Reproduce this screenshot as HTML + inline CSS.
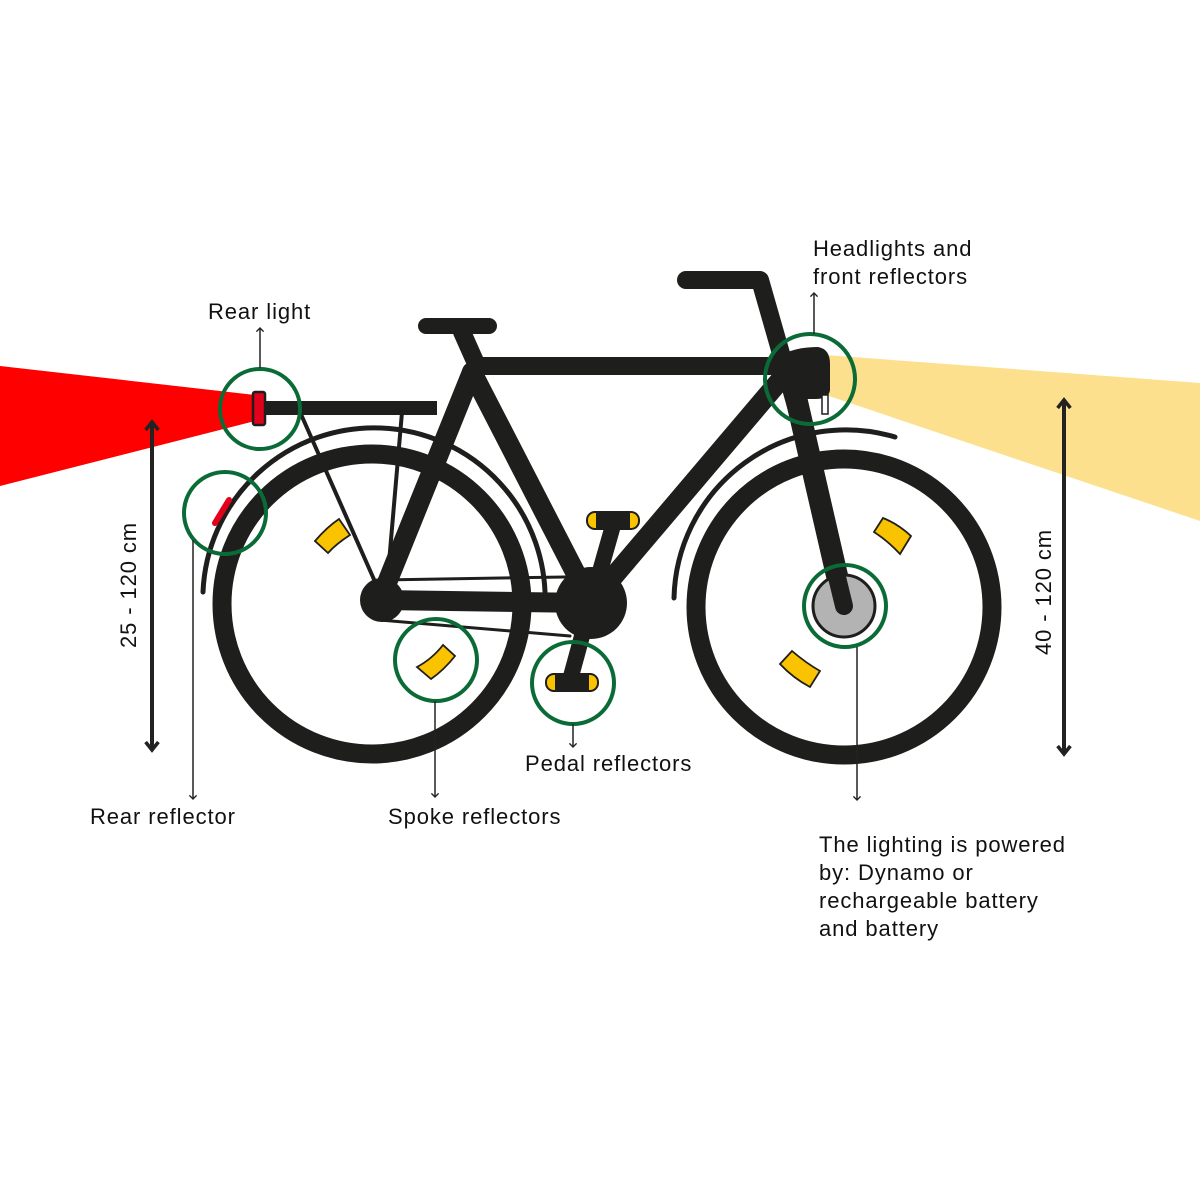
<!DOCTYPE html>
<html><head><meta charset="utf-8"><style>
html,body{margin:0;padding:0;background:#fff;}
svg{display:block}
text{font-family:"Liberation Sans",sans-serif;font-size:22px;letter-spacing:0.9px;fill:#111;}
</style></head><body>
<svg width="1200" height="1200" viewBox="0 0 1200 1200" xmlns="http://www.w3.org/2000/svg">
<defs>
<marker id="ah" viewBox="0 0 10 10" refX="5" refY="5" markerWidth="6" markerHeight="6" orient="auto-start-reverse"><path d="M1,1 L5,5 L1,9" fill="none" stroke="#222" stroke-width="1.5"/></marker>
<marker id="bh" viewBox="0 0 10 10" refX="6" refY="5" markerWidth="4" markerHeight="4" orient="auto-start-reverse"><path d="M1,1 L6,5 L1,9" fill="none" stroke="#222" stroke-width="2.2"/></marker>
</defs>
<polygon points="0,366 255,395 255,421 0,486" fill="#ff0000"/>
<polygon points="826,355 1200,383 1200,521 826,395" fill="#fde08e"/>

<g stroke="#1e1e1c" fill="none" stroke-linecap="round">
<circle cx="372" cy="604" r="150" stroke-width="19"/>
<circle cx="844" cy="607" r="148" stroke-width="19"/>
<path d="M203,592 A170,170 0 0 1 545,606" stroke-width="5"/>
<path d="M674,598 A172,172 0 0 1 895,437" stroke-width="5"/>
<line x1="380" y1="580" x2="565" y2="577" stroke-width="3"/>
<line x1="380" y1="620" x2="570" y2="636" stroke-width="3"/>
<line x1="300" y1="412" x2="376" y2="584" stroke-width="4"/>
<line x1="402" y1="412" x2="387" y2="586" stroke-width="4"/>
<line x1="380" y1="600" x2="591" y2="603" stroke-width="20" stroke-linecap="butt"/>
<line x1="380" y1="600" x2="472" y2="372" stroke-width="20"/>
<line x1="472" y1="372" x2="591" y2="603" stroke-width="20"/>
<line x1="462" y1="332" x2="478" y2="368" stroke-width="18"/>
<line x1="472" y1="366" x2="780" y2="366" stroke-width="18" stroke-linecap="butt"/>
<line x1="591" y1="603" x2="782" y2="378" stroke-width="20"/>
<line x1="426" y1="326" x2="489" y2="326" stroke-width="16"/>
<polyline points="686,280 760,280 800,420" stroke-width="18" stroke-linejoin="round"/>
<line x1="792" y1="380" x2="844" y2="606" stroke-width="22"/>
<line x1="262" y1="408" x2="437" y2="408" stroke-width="14" stroke-linecap="butt"/>
<line x1="591" y1="603" x2="614" y2="522" stroke-width="16"/>
<line x1="591" y1="603" x2="570" y2="680" stroke-width="16"/>
</g>
<circle cx="382" cy="600" r="22" fill="#1e1e1c"/>
<circle cx="591" cy="603" r="36" fill="#1e1e1c"/>
<rect x="587" y="512" width="52" height="17" rx="8" fill="#f9c300" stroke="#1e1e1c" stroke-width="2"/>
<rect x="596" y="512" width="34" height="17" fill="#1e1e1c"/>
<rect x="546" y="674" width="52" height="17" rx="8" fill="#f9c300" stroke="#1e1e1c" stroke-width="2"/>
<rect x="555" y="674" width="34" height="17" fill="#1e1e1c"/>
<path d="M788,352 Q800,347 818,347 Q830,349 830,364 L830,390 Q829,399 815,399 L798,399 Z" fill="#1e1e1c"/>
<rect x="822" y="395" width="6" height="19" fill="#fff" stroke="#1e1e1c" stroke-width="1.5"/>
<circle cx="844" cy="606" r="31" fill="#b3b3b3" stroke="#1e1e1c" stroke-width="3"/>
<line x1="834" y1="565" x2="844" y2="606" stroke="#1e1e1c" stroke-width="18" stroke-linecap="round"/>
<rect x="253" y="392" width="12" height="33" rx="2" fill="#e3001b" stroke="#1e1e1c" stroke-width="2.5"/>
<line x1="215" y1="523" x2="229" y2="500" stroke="#e3001b" stroke-width="6" stroke-linecap="round"/>
<g fill="#f9c300" stroke="#1e1e1c" stroke-width="1.8">
<path d="M315,541 Q327,527 339,519 L350,535 Q336,544 328,553 Z"/>
<path d="M417,667 Q432,659 443,645 L455,656 Q444,670 431,679 Z"/>
<path d="M874,532 L883,518 Q898,524 911,536 L900,554 Q888,541 874,532 Z"/>
<path d="M780,664 L792,651 Q806,663 820,671 L810,687 Q793,678 780,664 Z"/>
</g>
<g fill="none" stroke="#0b6b37" stroke-width="4">
<circle cx="260" cy="409" r="40"/>
<circle cx="225" cy="513" r="41"/>
<circle cx="436" cy="660" r="41"/>
<circle cx="573" cy="683" r="41"/>
<circle cx="810" cy="379" r="45"/>
<circle cx="845" cy="606" r="41"/>
</g>
<g stroke="#222" stroke-width="1.5" fill="none">
<line x1="260" y1="368" x2="260" y2="328" marker-end="url(#ah)"/>
<line x1="814" y1="334" x2="814" y2="293" marker-end="url(#ah)"/>
<line x1="193" y1="540" x2="193" y2="799" marker-end="url(#ah)"/>
<line x1="435" y1="701" x2="435" y2="797" marker-end="url(#ah)"/>
<line x1="573" y1="724" x2="573" y2="747" marker-end="url(#ah)"/>
<line x1="857" y1="647" x2="857" y2="800" marker-end="url(#ah)"/>
</g>
<g stroke="#222" stroke-width="4" fill="none">
<line x1="152" y1="422" x2="152" y2="750" marker-start="url(#bh)" marker-end="url(#bh)"/>
<line x1="1064" y1="400" x2="1064" y2="754" marker-start="url(#bh)" marker-end="url(#bh)"/>
</g>
<text transform="translate(136,585) rotate(-90)" text-anchor="middle">25 - 120 cm</text>
<text transform="translate(1051,592) rotate(-90)" text-anchor="middle">40 - 120 cm</text>
<text x="208" y="319">Rear light</text>
<text x="813" y="256">Headlights and</text>
<text x="813" y="284">front reflectors</text>
<text x="90" y="824">Rear reflector</text>
<text x="388" y="824">Spoke reflectors</text>
<text x="525" y="771">Pedal reflectors</text>
<text x="819" y="852">The lighting is powered</text>
<text x="819" y="880">by: Dynamo or</text>
<text x="819" y="908">rechargeable battery</text>
<text x="819" y="936">and battery</text>
</svg>
</body></html>
